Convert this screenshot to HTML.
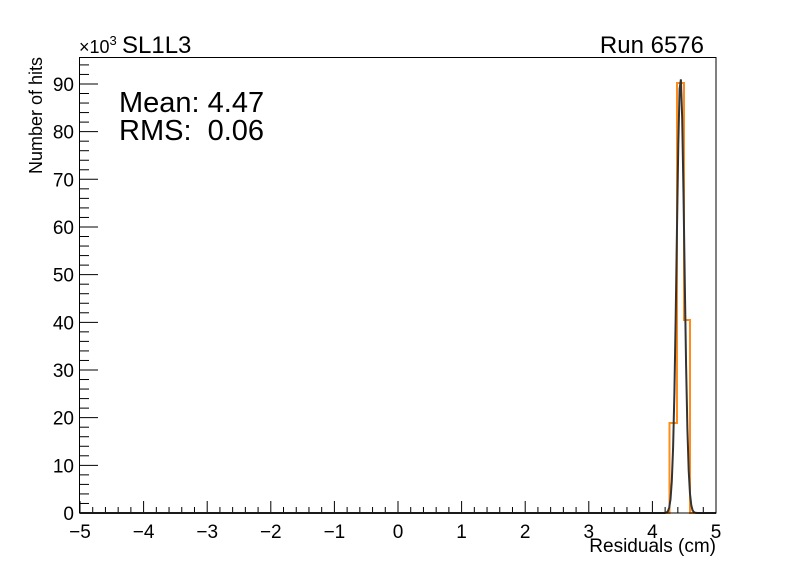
<!DOCTYPE html>
<html><head><style>body{margin:0;background:#fff}svg{display:block;font-family:"Liberation Sans",Arial,sans-serif}</style></head>
<body>
<svg id="s" width="796" height="572" viewBox="0 0 796 572" xmlns="http://www.w3.org/2000/svg">
<rect width="796" height="572" fill="#fff"/>
<g id="ticks" stroke="#000" stroke-width="1"></g>
<g id="labs" font-size="19" fill="#000"></g>
<polyline fill="none" stroke="#ff8c1a" stroke-width="2" points="80,513 669.5,513 669.5,423 677,423 677,83 684,83 684,320 690,320 690,513 716,513"/>
<polyline id="fit" fill="none" stroke="#333" stroke-width="2"/>
<rect x="79.5" y="57.5" width="636.5" height="455.5" fill="none" stroke="#000" stroke-width="1"/>
<text x="79" y="53" font-size="18">×10<tspan dy="-8" font-size="13">3</tspan></text>
<text x="122" y="53" font-size="24">SL1L3</text>
<text x="704" y="53" font-size="24" text-anchor="end">Run 6576</text>
<text x="119" y="112" font-size="29">Mean: 4.47</text>
<text x="119" y="140" font-size="29" xml:space="preserve">RMS:  0.06</text>
<text x="716" y="552" font-size="19" text-anchor="end">Residuals (cm)</text>
<text transform="translate(42,57) rotate(-90)" font-size="18" text-anchor="end">Number of hits</text>
</svg>
<script>
var ns="http://www.w3.org/2000/svg",t=document.getElementById('ticks'),l=document.getElementById('labs');
function ln(a,b,c,d){var e=document.createElementNS(ns,'line');e.setAttribute('x1',a);e.setAttribute('y1',b);e.setAttribute('x2',c);e.setAttribute('y2',d);t.appendChild(e);}
function tx(x,y,s,a){var e=document.createElementNS(ns,'text');e.setAttribute('x',x);e.setAttribute('y',y);e.setAttribute('text-anchor',a);e.textContent=s;l.appendChild(e);}
var x0=80,px=63.6,y0=513,py=4.767;
for(var i=0;i<=50;i++){var x=x0+i*px/5;ln(x,513,x,i%5?507:501);}
for(var i=-5;i<=5;i++){tx(x0+(i+5)*px,538,(i<0?'\u2212':'')+Math.abs(i),'middle');}
for(var k=0;k<=94;k+=2){var y=y0-k*py;ln(80,y,k%10?89:98,y);}
for(var k=0;k<=90;k+=10){tx(74,y0-k*py+7,k,'end');}
var p=[],c=680.5,sg=3.8;p.push('80,513');
for(var x=664;x<=698;x+=1.3){var v=Math.exp(-Math.pow((x-c)/sg,2)/2);p.push(x.toFixed(1)+','+(513-v*(513-77)).toFixed(1));}
p.push('716,513');document.getElementById('fit').setAttribute('points',p.join(' '));
</script>
</body></html>
